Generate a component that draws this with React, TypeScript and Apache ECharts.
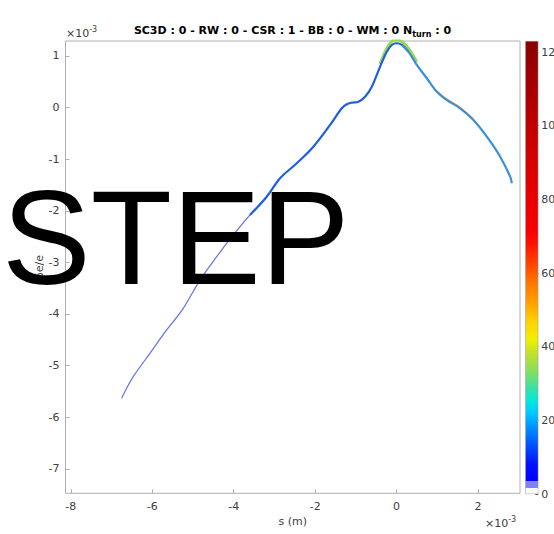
import React, { useEffect, useRef } from "react";
import * as echarts from "echarts";

// s in units of 1e-3 m, δe/e in units of 1e-3
const tailS = [-6.752, -6.629, -6.467, -6.057, -5.646, -5.238, -4.828, -4.418, -4.010, -3.600, -3.189, -2.862];
const tailDE = [-5.633, -5.440, -5.215, -4.762, -4.310, -3.890, -3.343, -2.890, -2.469, -2.081, -1.727, -1.370];

const riseS = [-3.600, -3.189, -2.862, -2.452, -2.044, -1.634, -1.346, -1.224, -1.101, -0.939, -0.774, -0.609, -0.405, -0.241, -0.118, 0.005, 0.128, 0.290];
const riseDE = [-2.081, -1.727, -1.370, -1.079, -0.758, -0.337, -0.014, 0.064, 0.095, 0.114, 0.211, 0.405, 0.793, 1.083, 1.213, 1.246, 1.213, 1.083];

const fallS = [0.128, 0.290, 0.496, 0.742, 0.988, 1.233, 1.560, 1.887, 2.216, 2.543, 2.789, 2.830];
const fallDE = [1.213, 1.083, 0.826, 0.568, 0.308, 0.147, -0.014, -0.240, -0.564, -0.952, -1.339, -1.467];

const peakTopS = [-0.405, -0.241, -0.118, 0.005, 0.128, 0.290, 0.496];
const peakTopDE = [0.845, 1.145, 1.281, 1.310, 1.281, 1.145, 0.884];

const speckS = [0.988, 1.233, 1.560, 1.887];
const speckDE = [0.330, 0.170, 0.010, -0.215];

const xTicks = [-8, -6, -4, -2, 0, 2];
const yTicks = [-7, -6, -5, -4, -3, -2, -1, 0, 1];
const cbTicks = [0, 20, 40, 60, 80, 100, 120];
const cbMax = 123;

// colour bar palette: [value, colour]
const cbPalette: [number, string][] = [
  [0, "#ffffff"], [1.7, "#ffffff"], [1.7, "#8080ff"], [3.4, "#8080ff"], [3.4, "#0000ff"],
  [8, "#0010ff"], [13, "#0050ff"], [18, "#0090ff"], [22, "#00c8ff"], [25, "#00e8e0"],
  [29, "#40e0a0"], [33, "#80e060"], [38, "#c0e030"], [42, "#f0f000"], [47, "#ffd000"],
  [52, "#ffa000"], [58, "#ff7000"], [63, "#ff4000"], [68, "#ff1000"], [72, "#f80000"],
  [85, "#e00000"], [100, "#c00000"], [123, "#880000"],
];

const zip = (a: number[], b: number[]) => a.map((v, i) => [v, b[i]]);

const FONT = "DejaVu Sans";
const AX = "#b0b0b0";
const LBL = "#404040";

export default function App() {
  const ref = useRef<HTMLDivElement>(null);
  useEffect(() => {
    if (!ref.current) return;
    const chart = echarts.init(ref.current, undefined, { renderer: "svg" });
    const lineS = (name: string, data: number[][], color: string, width: number, opacity = 1) => ({
      name, type: "line", data, xAxisIndex: 0, yAxisIndex: 0, smooth: 0.35, symbol: "none",
      lineStyle: { color, width, opacity }, z: 3,
    });
    const option: any = {
      animation: false,
      backgroundColor: "#ffffff",
      grid: [
        { left: 65.5, top: 41, width: 454.5, height: 452.3, show: true, borderColor: AX, borderWidth: 1, outerBoundsMode: "none", containLabel: false },
        { left: 525.3, top: 41, width: 13, height: 453, show: false, outerBoundsMode: "none", containLabel: false },
      ],
      xAxis: [
        {
          type: "value", gridIndex: 0, min: -8.13, max: 3.03,
          axisLine: { show: false, onZero: false }, splitLine: { show: false },
          axisTick: { show: true, inside: true, length: 4, lineStyle: { color: AX }, customValues: xTicks },
          axisLabel: { customValues: xTicks, color: LBL, fontFamily: FONT, fontSize: 11, margin: 8 },
        },
        { type: "category", gridIndex: 1, data: [""], show: false, boundaryGap: true },
      ],
      yAxis: [
        {
          type: "value", gridIndex: 0, min: -7.475, max: 1.29,
          axisLine: { show: false, onZero: false }, splitLine: { show: false },
          axisTick: { show: true, inside: true, length: 4, lineStyle: { color: AX }, customValues: yTicks },
          axisLabel: { customValues: yTicks, color: LBL, fontFamily: FONT, fontSize: 11, margin: 6 },
        },
        {
          type: "value", gridIndex: 1, position: "right", min: 0, max: cbMax,
          axisLine: { show: false, onZero: false }, splitLine: { show: false },
          axisTick: { show: true, inside: true, length: 3, lineStyle: { color: "#555" }, customValues: cbTicks },
          axisLabel: { customValues: cbTicks, color: LBL, fontFamily: FONT, fontSize: 11, margin: 3 },
        },
      ],
      series: [
        lineS("tail", zip(tailS, tailDE), "#5060e8", 1.2, 0.9),
        lineS("peakTop", zip(peakTopS, peakTopDE), "#9ad850", 3),
        lineS("rise", zip(riseS, riseDE), "#1f5fe0", 2.2),
        lineS("fall", zip(fallS, fallDE), "#3a90d4", 2.2),
        lineS("speck", zip(speckS, speckDE), "#9a7a60", 1, 0.7),
        {
          name: "colorbar", type: "bar", xAxisIndex: 1, yAxisIndex: 1, data: [cbMax], barWidth: 13,
          itemStyle: {
            borderColor: "#999", borderWidth: 0.5,
            color: new echarts.graphic.LinearGradient(0, 1, 0, 0,
              cbPalette.map(([v, c]) => ({ offset: v / cbMax, color: c }))),
          },
        },
      ],
      graphic: [
        {
          type: "text", x: 292.5, y: 30, z: 10,
          style: {
            text: "{b|SC3D : 0 - RW : 0 - CSR : 1 - BB : 0 - WM : 0 N}{s|turn}{b| : 0}",
            align: "center", verticalAlign: "middle",
            rich: {
              b: { fontFamily: FONT, fontWeight: "bold", fontSize: 11, fill: "#000", lineHeight: 14 },
              s: { fontFamily: FONT, fontWeight: "bold", fontSize: 8, fill: "#000", padding: [9, 0, 0, 0] },
            },
          },
        },
        {
          type: "text", x: 66, y: 33, z: 10,
          style: {
            text: "{a|×10}{e|-3}", align: "left", verticalAlign: "middle",
            rich: {
              a: { fontFamily: FONT, fontSize: 11, fill: LBL, lineHeight: 13 },
              e: { fontFamily: FONT, fontSize: 8, fill: LBL, padding: [0, 0, 7, 0] },
            },
          },
        },
        {
          type: "text", x: 485, y: 523, z: 10,
          style: {
            text: "{a|×10}{e|-3}", align: "left", verticalAlign: "middle",
            rich: {
              a: { fontFamily: FONT, fontSize: 11, fill: LBL, lineHeight: 13 },
              e: { fontFamily: FONT, fontSize: 8, fill: LBL, padding: [0, 0, 7, 0] },
            },
          },
        },
        {
          type: "text", x: 292.7, y: 521, z: 10,
          style: { text: "s (m)", fontFamily: FONT, fontSize: 11, fill: LBL, align: "center", verticalAlign: "middle" },
        },
        {
          type: "text", x: 39, y: 267, z: 10, rotation: Math.PI / 2,
          style: { text: "δe/e", fontFamily: FONT, fontSize: 11, fill: LBL, align: "center", verticalAlign: "middle" },
        },
        {
          type: "text", x: 2, y: 238, z: 100,
          style: { text: "STEP", fontFamily: "Liberation Sans", fontSize: 133, fill: "#000", align: "left", verticalAlign: "middle" },
        },
      ],
    };
    chart.setOption(option);
    return () => chart.dispose();
  }, []);
  return <div ref={ref} style={{ position: "fixed", left: 0, top: 0, width: 554, height: 534, background: "#fff" }} />;
}
